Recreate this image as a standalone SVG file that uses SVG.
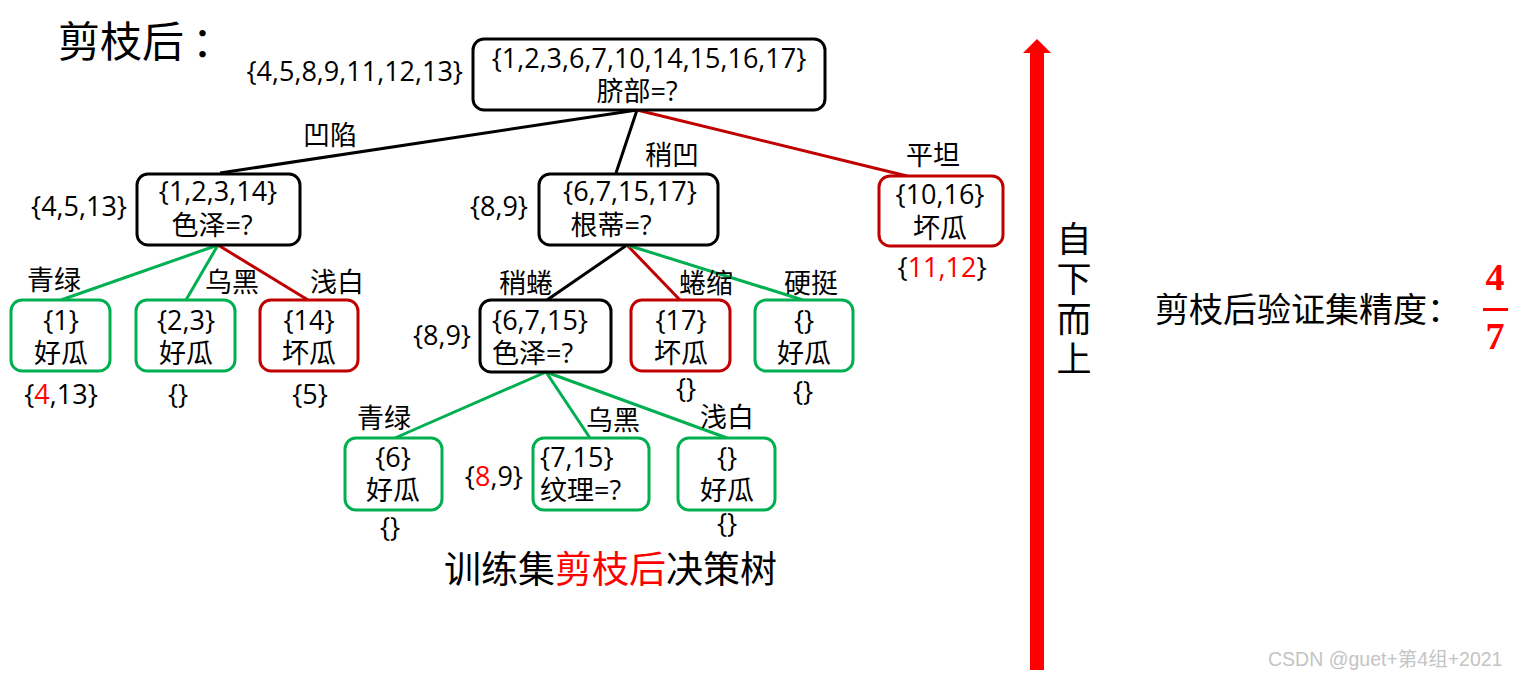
<svg xmlns="http://www.w3.org/2000/svg" width="1518" height="679" viewBox="0 0 1518 679">
<style>
text{font-family:"Open Sans","Noto Sans CJK SC",sans-serif;font-size:27px;fill:#000}
.c{text-anchor:middle}
.e{text-anchor:end}
.r{fill:#FF0000}
.bk{fill:#fff;stroke:#000;stroke-width:3}
.gn{fill:#fff;stroke:#00B050;stroke-width:3}
.rd{fill:#fff;stroke:#C00000;stroke-width:3}
.lk{stroke:#000;stroke-width:3;fill:none}
.lg{stroke:#00B050;stroke-width:3;fill:none}
.lr{stroke:#C00000;stroke-width:3;fill:none}
.cjk{font-family:"Noto Sans CJK SC",sans-serif}
.frac{font-family:"Liberation Serif",serif;font-weight:bold;font-size:38px;fill:#FF0000;text-anchor:middle}
</style>
<rect width="1518" height="679" fill="#fff"/>
<text class="cjk" x="58" y="57" style="font-size:42px">剪枝后<tspan dx="8">：</tspan></text>

<g id="connectors">
<line class="lk" x1="637" y1="110" x2="220" y2="173"/>
<line class="lk" x1="637" y1="110" x2="616" y2="173"/>
<line class="lr" x1="637" y1="110" x2="907" y2="176"/>
<line class="lg" x1="218" y1="245" x2="61" y2="300"/>
<line class="lg" x1="218" y1="245" x2="186" y2="300"/>
<line class="lr" x1="218" y1="245" x2="308" y2="300"/>
<line class="lk" x1="627" y1="245" x2="547" y2="300"/>
<line class="lr" x1="627" y1="245" x2="680" y2="300"/>
<line class="lg" x1="627" y1="245" x2="803" y2="300"/>
<line class="lg" x1="546" y1="372" x2="395" y2="438"/>
<line class="lg" x1="546" y1="372" x2="590" y2="438"/>
<line class="lg" x1="546" y1="372" x2="727" y2="438"/>
</g>

<g id="edge-labels">
<text class="cjk" x="303" y="145">凹陷</text>
<text class="cjk" x="645" y="165">稍凹</text>
<text class="cjk" x="906" y="165">平坦</text>
<text class="cjk" x="27" y="290">青绿</text>
<text class="cjk" x="205" y="292">乌黑</text>
<text class="cjk" x="310" y="292">浅白</text>
<text class="cjk" x="499" y="293">稍蜷</text>
<text class="cjk" x="679" y="293">蜷缩</text>
<text class="cjk" x="784" y="293">硬挺</text>
<text class="cjk" x="357" y="428">青绿</text>
<text class="cjk" x="586" y="430">乌黑</text>
<text class="cjk" x="700" y="427">浅白</text>
</g>

<g id="root">
<rect class="bk" x="473" y="39" width="352" height="71" rx="11"/>
<text class="c"><tspan x="649" y="68">{1,2,3,6,7,10,14,15,16,17}</tspan><tspan x="637" y="101">脐部=?</tspan></text>
<text class="e" x="463" y="81">{4,5,8,9,11,12,13}</text>
</g>

<g id="n-sezeA">
<rect class="bk" x="137" y="174" width="163" height="71" rx="11"/>
<text class="c"><tspan x="218" y="201">{1,2,3,14}</tspan><tspan x="212" y="235">色泽=?</tspan></text>
<text class="e" x="127" y="216">{4,5,13}</text>
</g>

<g id="n-gendi">
<rect class="bk" x="539" y="174" width="179" height="71" rx="11"/>
<text class="c"><tspan x="630" y="201">{6,7,15,17}</tspan><tspan x="611" y="235">根蒂=?</tspan></text>
<text class="e" x="528" y="216">{8,9}</text>
</g>

<g id="n-1016">
<rect class="rd" x="879" y="176" width="124" height="70" rx="11"/>
<text class="c"><tspan x="940" y="204">{10,16}</tspan><tspan x="940" y="238">坏瓜</tspan></text>
<text class="c" x="942" y="277">{<tspan class="r">11,12</tspan>}</text>
</g>

<g id="n-1">
<rect class="gn" x="11" y="300" width="99" height="71" rx="11"/>
<text class="c"><tspan x="61" y="330">{1}</tspan><tspan x="61" y="363">好瓜</tspan></text>
<text class="c" x="61" y="404">{<tspan class="r">4</tspan>,13}</text>
</g>

<g id="n-23">
<rect class="gn" x="136" y="300" width="99" height="71" rx="11"/>
<text class="c"><tspan x="186" y="330">{2,3}</tspan><tspan x="186" y="363">好瓜</tspan></text>
<text class="c" x="178" y="404">{}</text>
</g>

<g id="n-14">
<rect class="rd" x="260" y="300" width="98" height="71" rx="11"/>
<text class="c"><tspan x="309" y="330">{14}</tspan><tspan x="309" y="363">坏瓜</tspan></text>
<text class="c" x="310" y="404">{5}</text>
</g>

<g id="n-sezeB">
<rect class="bk" x="480" y="300" width="131" height="72" rx="11"/>
<text><tspan x="492" y="330">{6,7,15}</tspan><tspan x="492" y="363">色泽=?</tspan></text>
<text class="e" x="471" y="345">{8,9}</text>
</g>

<g id="n-17">
<rect class="rd" x="631" y="300" width="99" height="71" rx="11"/>
<text class="c"><tspan x="681" y="330">{17}</tspan><tspan x="681" y="363">坏瓜</tspan></text>
<text class="c" x="686" y="398">{}</text>
</g>

<g id="n-yingting">
<rect class="gn" x="755" y="300" width="98" height="71" rx="11"/>
<text class="c"><tspan x="804" y="330">{}</tspan><tspan x="804" y="363">好瓜</tspan></text>
<text class="c" x="803" y="401">{}</text>
</g>

<g id="n-6">
<rect class="gn" x="345" y="438" width="97" height="72" rx="11"/>
<text class="c"><tspan x="393" y="467">{6}</tspan><tspan x="393" y="500">好瓜</tspan></text>
<text class="c" x="390" y="537">{}</text>
</g>

<g id="n-715">
<rect class="gn" x="533" y="438" width="116" height="72" rx="11"/>
<text><tspan x="540" y="467">{7,15}</tspan><tspan x="540" y="500">纹理=?</tspan></text>
<text class="e" x="523" y="486">{<tspan class="r">8</tspan>,9}</text>
</g>

<g id="n-qianbai">
<rect class="gn" x="678" y="438" width="97" height="72" rx="11"/>
<text class="c"><tspan x="727" y="467">{}</tspan><tspan x="727" y="500">好瓜</tspan></text>
<text class="c" x="727" y="533">{}</text>
</g>

<text class="cjk" x="444" y="583" style="font-size:37px">训练集<tspan class="r">剪枝后</tspan>决策树</text>

<g id="arrow">
<rect x="1030" y="52" width="14" height="618" fill="#FF0000"/>
<polygon points="1023,53 1051,53 1037,39" fill="#FF0000"/>
</g>
<text class="cjk" x="1074" y="221" style="font-size:35px;writing-mode:vertical-rl;letter-spacing:5px">自下而上</text>

<text class="cjk" x="1155" y="322" style="font-size:34px">剪枝后验证集精度：</text>
<g id="fraction">
<text class="frac" x="1495" y="290">4</text>
<rect x="1483" y="308" width="25" height="3" fill="#FF0000"/>
<text class="frac" x="1495" y="349">7</text>
</g>
<text x="1268" y="666" style="font-family:'Liberation Sans','Noto Sans CJK SC',sans-serif;font-size:19.5px;fill:#c4c4c4">CSDN @guet+第4组+2021</text>
</svg>
